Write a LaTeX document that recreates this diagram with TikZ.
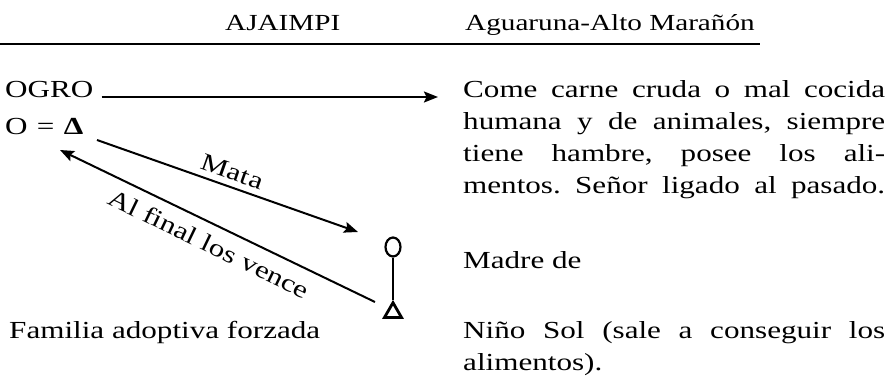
\documentclass[tikz,border=0pt]{standalone}
\usepackage{fontspec}
\setmainfont{Liberation Serif}[FakeStretch=1.27]
\usetikzlibrary{arrows.meta,shapes.geometric}
\frenchspacing
\begin{document}
\begin{tikzpicture}[x=1pt,y=-1pt,
  txt/.style={font=\fontsize{24.5}{32}\selectfont, inner sep=0pt, anchor=base west},
  hdr/.style={font=\fontsize{23}{28}\selectfont, inner sep=0pt, anchor=base west},
  conn/.style={line width=2pt, -{Stealth[length=14pt,width=11pt,inset=2.5pt]}},
  connback/.style={line width=2pt, {Stealth[length=14pt,width=11pt,inset=2.5pt]}-},
  lbl/.style={font=\fontsize{24.5}{32}\selectfont, sloped, inner xsep=0pt},
  rulestyle/.style={line width=2.6pt},
  figcircle/.style={draw, ellipse, line width=2.2pt, minimum width=15pt, minimum height=19pt, inner sep=0pt},
  figtri/.style={draw, regular polygon, regular polygon sides=3, line width=2.8pt, minimum size=19.6pt, inner sep=0pt},
  figline/.style={line width=1.8pt}
]
\useasboundingbox (0,0) rectangle (892,382);

% header
\node[hdr] (h1) at (225,31) {AJAIMPI};
\node[hdr] (h2) at (465,31) {Aguaruna-Alto Marañón};
\coordinate (rl) at (0,44);
\draw[rulestyle] (rl) -- (rl -| h2.east) -- ++(5,0);

% left column
\node[txt] (ogro) at (5,98) {OGRO};
\node[txt] (pareja) at (5,135) {O\hspace{0.38em}=\hspace{0.38em}{\bfseries Δ}};
\node[txt] (fam) at (9,338) {Familia adoptiva forzada};

% right column
\newlength{\colw}\setlength{\colw}{422pt}
\node[txt] (d1) at (463,98) {\makebox[\colw][s]{Come carne cruda o mal cocida}};
\node[txt] (d2) at (463,130) {\makebox[\colw][s]{humana y de animales, siempre}};
\node[txt] (d3) at (463,162) {\makebox[\colw][s]{tiene hambre, posee los ali-}};
\node[txt] (d4) at (463,194) {\makebox[\colw][s]{mentos. Señor ligado al pasado.}};
\node[txt] (madrede) at (463,269) {Madre de};
\node[txt] (n1) at (463,338) {\makebox[\colw][s]{Niño Sol (sale a conseguir los}};
\node[txt] (n2) at (463,370) {alimentos).};

% kinship figure
\node[figcircle] (madre) at (393,247) {};
\node[figtri] (nino) at (393,312.5) {};
\draw[figline] (madre) -- (nino);

% connectors
\draw[conn] ([xshift=8pt,yshift=1pt]ogro.base east) -- ([xshift=-25pt,yshift=1pt]d1.base west);
\coordinate (mataS) at (97,140);
\coordinate (mataE) at (358,232);
\draw[conn] (mataS) -- node[lbl, above, inner ysep=6pt, pos=0.5] {Mata} (mataE);
\coordinate (alTip) at (60,150);
\coordinate (alS) at (375,302);
\draw[connback] (alTip) -- node[lbl, below, inner ysep=10pt, pos=0.5] {Al final los vence} (alS);
\end{tikzpicture}
\end{document}
